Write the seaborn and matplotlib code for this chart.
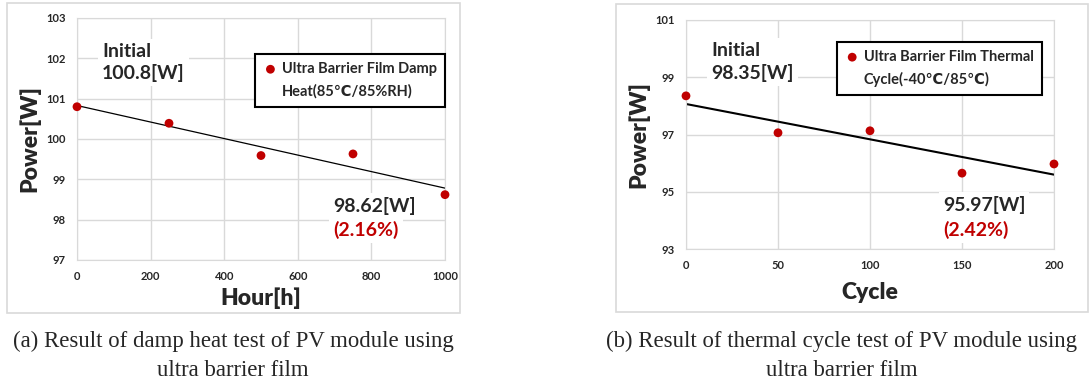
import numpy as np
import pandas as pd
import seaborn as sns
import matplotlib.pyplot as plt
from matplotlib.patches import Rectangle
from matplotlib.lines import Line2D

# values
hours = [0, 250, 500, 750, 1000]
damp_power = [100.8, 100.39, 99.59, 99.63, 98.62]
cycles = [0, 50, 100, 150, 200]
cycle_power = [98.35, 97.06, 97.13, 95.65, 95.97]

hour_ticks = [0, 200, 400, 600, 800, 1000]
damp_ticks = [97, 98, 99, 100, 101, 102, 103]
cycle_ticks = [0, 50, 100, 150, 200]
cycle_yticks = [93, 95, 97, 99, 101]

damp_label = "Ultra Barrier Film Damp\nHeat(85\u2103/85%RH)"
cycle_label = "Ultra Barrier Film Thermal\nCycle(-40\u2103/85\u2103)"
damp_notes = ["Initial\n100.8[W]", "98.62[W]", "(2.16%)"]
cycle_notes = ["Initial\n98.35[W]", "95.97[W]", "(2.42%)"]
captions = ["(a) Result of damp heat test of PV module using\nultra barrier film",
            "(b) Result of thermal cycle test of PV module using\nultra barrier film"]

sns.set_style("whitegrid")
plt.rcParams['font.family'] = ['Lato', 'DejaVu Sans']

red = '#c00000'
grid = '#d9d9d9'
W, H = 1090, 386

fig = plt.figure(figsize=(10.9, 3.86), dpi=100)


def px_rect(x0, y0, x1, y1):
    # pixel box (top-left origin) -> figure fraction
    return [x0 / W, 1 - y1 / H, (x1 - x0) / W, (y1 - y0) / H]


def panel(box, frame, x, y, label, notes, xlabel, xticks, yticks, leg_at, lab_y, ylab_x, line_w):
    fr = px_rect(*frame)
    fig.add_artist(Rectangle(fr[:2], fr[2], fr[3], transform=fig.transFigure,
                             fill=False, edgecolor=grid, lw=1.2))
    ax = fig.add_axes(px_rect(*box))
    df = pd.DataFrame({'x': x, 'y': y})
    sns.regplot(data=df, x='x', y='y', scatter=False, ci=None, ax=ax,
                line_kws=dict(color='black', lw=line_w))
    sns.scatterplot(data=df, x='x', y='y', ax=ax, color=red, s=40, edgecolor='none',
                    label=label, clip_on=False, zorder=5)
    ax.set_xlim(xticks[0], xticks[-1])
    ax.set_ylim(yticks[0], yticks[-1])
    ax.set_xticks(xticks)
    ax.set_yticks(yticks)
    ax.tick_params(length=0, labelsize=8, pad=8)
    for t in ax.get_xticklabels() + ax.get_yticklabels():
        t.set_fontweight('bold')
    ax.grid(color=grid, lw=1)
    for s in ax.spines.values():
        s.set_color(grid)
    ax.set_xlabel(xlabel, fontsize=16.5, fontweight='heavy', va='center')
    ax.set_ylabel("Power[W]", fontsize=16.5, fontweight='heavy', va='center')
    ax.xaxis.set_label_coords(0.5, lab_y)
    ax.yaxis.set_label_coords(ylab_x, 0.5)

    # marker sits beside the first line of the two-line label
    h, _ = ax.get_legend_handles_labels()
    blank = Line2D([], [], linestyle='none')
    leg = ax.legend([h[0], blank], label.split('\n'), loc='upper left', bbox_to_anchor=leg_at,
                    borderaxespad=0, fancybox=False, framealpha=1, edgecolor='black',
                    prop=dict(weight='bold', size=10.5), handletextpad=0.3,
                    borderpad=0.55, handlelength=1.0, labelspacing=0.55)
    leg.get_frame().set_linewidth(1.5)

    bb = dict(facecolor='white', edgecolor='none', pad=3)
    ax.text(0.068, 0.816, notes[0], transform=ax.transAxes, fontsize=14, fontweight='bold',
            va='center', ha='left', linespacing=1.3, bbox=bb, zorder=4)
    return ax, bb


ax1, bb = panel((77, 18, 445, 260), (7, 3, 460, 313), hours, damp_power, damp_label, damp_notes,
                "Hour[h]", hour_ticks, damp_ticks, (0.484, 0.851), -0.157, -0.128, 0.9)
ax1.text(0.696, 0.223, damp_notes[1], transform=ax1.transAxes, fontsize=14, fontweight='bold',
         va='center', bbox=bb, zorder=4)
ax1.text(0.696, 0.124, damp_notes[2], transform=ax1.transAxes, fontsize=14, fontweight='bold',
         color=red, va='center', bbox=bb, zorder=4)

ax2, bb = panel((686, 20, 1054, 249), (616, 4, 1088, 312), cycles, cycle_power, cycle_label, cycle_notes,
                "Cycle", cycle_ticks, cycle_yticks, (0.41, 0.904), -0.192, -0.13, 1.5)
ax2.text(0.698, 0.192, cycle_notes[1], transform=ax2.transAxes, fontsize=14, fontweight='bold',
         va='center', bbox=bb, zorder=4)
ax2.text(0.698, 0.083, cycle_notes[2], transform=ax2.transAxes, fontsize=14, fontweight='bold',
         color=red, va='center', bbox=bb, zorder=4)

fig.text(233 / W, 1 - 356 / H, captions[0], fontsize=16.4, family='Liberation Serif',
         ha='center', va='center', linespacing=1.5)
fig.text(842 / W, 1 - 356 / H, captions[1], fontsize=16.4, family='Liberation Serif',
         ha='center', va='center', linespacing=1.5)

fig.savefig("out.png", dpi=100)
